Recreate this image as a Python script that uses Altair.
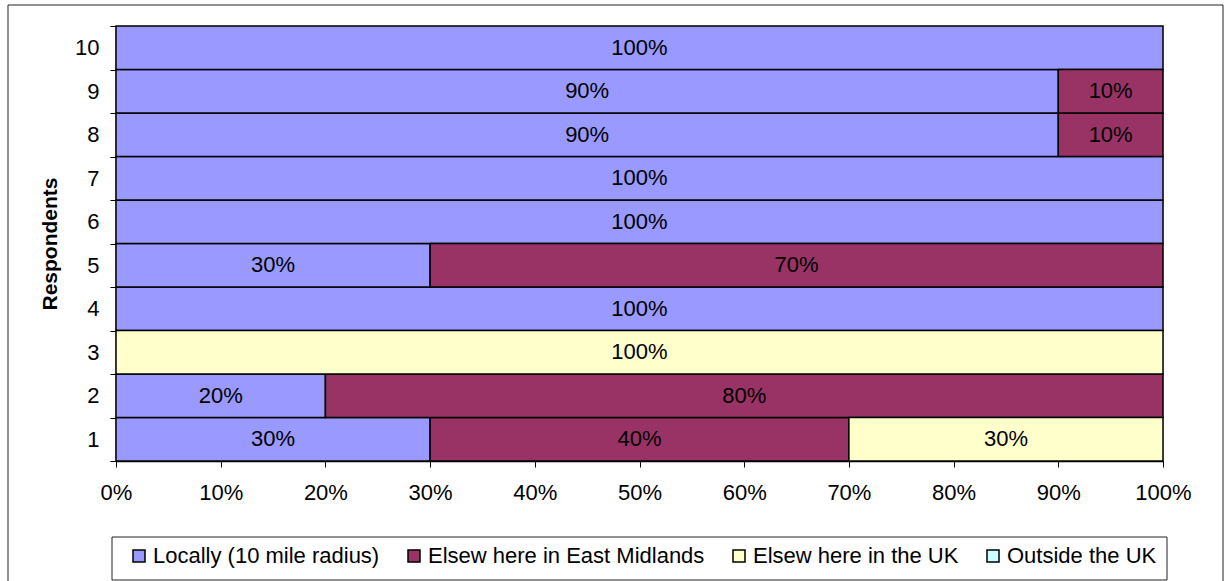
import altair as alt
import pandas as pd

respondents = [1, 2, 3, 4, 5, 6, 7, 8, 9, 10]
categories = [
    "Locally (10 mile radius)",
    "Elsew here in East Midlands",
    "Elsew here in the UK",
    "Outside the UK",
]
local = [30, 20, 0, 100, 30, 100, 100, 90, 90, 100]
east_midlands = [40, 80, 0, 0, 70, 0, 0, 10, 10, 0]
elsewhere_uk = [30, 0, 100, 0, 0, 0, 0, 0, 0, 0]
outside_uk = [0, 0, 0, 0, 0, 0, 0, 0, 0, 0]
colors = ["#9999FF", "#993366", "#FFFFCC", "#CCFFFF"]
x_ticks = [0, 0.1, 0.2, 0.3, 0.4, 0.5, 0.6, 0.7, 0.8, 0.9, 1.0]

series = [local, east_midlands, elsewhere_uk, outside_uk]
rows = []
for i, r in enumerate(respondents):
    for k, cat in enumerate(categories):
        rows.append({"resp": str(r), "cat": cat, "order": k, "value": series[k][i] / 100})
df = pd.DataFrame(rows)

FONT = "Liberation Sans"
FS = 22
y_sort = [str(r) for r in reversed(respondents)]

base = (
    alt.Chart(df)
    .transform_stack(stack="value", groupby=["resp"], as_=["x0", "x1"],
                     sort=[alt.SortField("order", order="ascending")])
    .transform_filter("datum.value > 0")
    .transform_calculate(mid="(datum.x0 + datum.x1) / 2")
)

y_enc = alt.Y(
    "resp:N",
    sort=y_sort,
    scale=alt.Scale(paddingInner=0, paddingOuter=0),
    axis=alt.Axis(
        title="Respondents", titleFont=FONT, titleFontSize=21, titleFontWeight="bold",
        titleColor="black", titlePadding=14,
        labelFont=FONT, labelFontSize=FS, labelColor="black", labelPadding=11,
        tickBand="extent", tickSize=6, tickColor="black", domainColor="black",
        domainWidth=1.5, tickWidth=1, grid=False,
    ),
)

bars = base.mark_bar(stroke="black", strokeWidth=1.5).encode(
    x=alt.X(
        "x0:Q",
        scale=alt.Scale(domain=[0, 1], nice=False, zero=True),
        axis=alt.Axis(
            title=None, format="%", values=x_ticks, labelFont=FONT, labelFontSize=FS,
            labelColor="black", labelPadding=15, tickSize=6, tickColor="black",
            domainColor="black", domainWidth=1.5, grid=False,
            labelFlush=False, labelOverlap=False, labelBound=False,
        ),
    ),
    x2="x1:Q",
    y=y_enc,
    color=alt.Color(
        "cat:N",
        scale=alt.Scale(domain=categories, range=colors),
        legend=alt.Legend(
            orient="none", legendX=12, legendY=519, direction="horizontal", title=None,
            symbolType="square", symbolSize=144, symbolStrokeColor="black",
            symbolStrokeWidth=1.5, labelFont=FONT, labelFontSize=FS, labelColor="black",
            labelOffset=3, columnPadding=23, padding=0, labelLimit=500,
        ),
    ),
    order=alt.Order("order:Q"),
)

labels = base.mark_text(font=FONT, fontSize=FS, color="black").encode(
    x=alt.X("mid:Q"),
    y=alt.Y("resp:N", sort=y_sort),
    text=alt.Text("value:Q", format=".0%"),
)

frame = alt.Chart(pd.DataFrame({"a": [0]})).mark_rect(
    fill=None, stroke="#222222", strokeWidth=1
).encode(
    x=alt.value(-108), x2=alt.value(1107), y=alt.value(-21), y2=alt.value(600)
)

legend_box = alt.Chart(pd.DataFrame({"a": [0]})).mark_rect(
    fill="white", stroke="#222222", strokeWidth=1
).encode(
    x=alt.value(-4), x2=alt.value(1051), y=alt.value(511), y2=alt.value(554)
)

chart = (
    alt.layer(frame, legend_box, bars, labels)
    .properties(
        width=1047, height=435,
        padding={"left": 116, "top": 26, "right": 62, "bottom": 120},
        autosize=alt.AutoSizeParams(type="none"),
    )
    .configure_view(stroke=None)
    .configure(background="white")
)

chart.save("out.html", embed_options={"renderer": "svg", "actions": False})
